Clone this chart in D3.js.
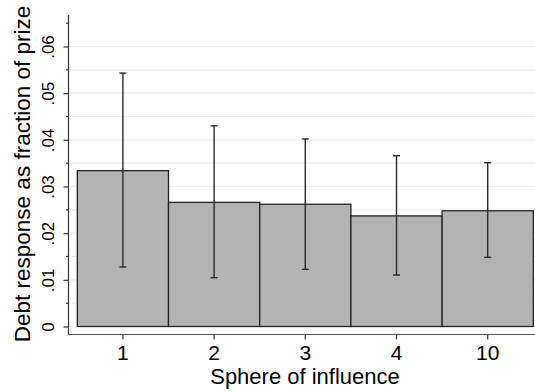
<!DOCTYPE html>
<html>
<head>
<meta charset="utf-8">
<script src="https://cdn.jsdelivr.net/npm/d3@7"></script>
<style>
  body { margin: 0; background: #fff; }
  svg { font-family: "Liberation Sans", Arial, sans-serif; }
</style>
</head>
<body>
<div id="chart"></div>
<script>
// data
const spheres = ["1", "2", "3", "4", "10"];
const meanResponse = [0.0334, 0.0266, 0.0262, 0.0237, 0.0248];
const ciLow = [0.01275, 0.01046, 0.01225, 0.01103, 0.01482];
const ciHigh = [0.0543, 0.0430, 0.0402, 0.0366, 0.0351];
const yTickLabels = ["0", ".01", ".02", ".03", ".04", ".05", ".06"];

const width = 535, height = 392;

const svg = d3.select("#chart")
  .append("svg")
  .attr("width", width)
  .attr("height", height);

// scales
const y = d3.scaleLinear()
  .domain([0, 0.06])
  .range([326.5, 46.5]);

const x = d3.scaleBand()
  .domain(spheres)
  .range([77.3, 533.3])
  .padding(0);

const axisX = 68.5, axisY = 334.5;

// gridlines every .005
const gridVals = d3.range(0, 13).map(i => i * 0.005);
svg.append("g")
  .selectAll("line")
  .data(gridVals)
  .enter()
  .append("line")
  .attr("x1", axisX)
  .attr("x2", width)
  .attr("y1", d => y(d))
  .attr("y2", d => y(d))
  .attr("stroke", "#e8eff1")
  .attr("stroke-width", 1.2);

// bars
svg.append("g")
  .selectAll("rect")
  .data(meanResponse)
  .enter()
  .append("rect")
  .attr("x", (d, i) => x(spheres[i]))
  .attr("y", d => y(d))
  .attr("width", x.bandwidth())
  .attr("height", d => y(0) - y(d))
  .attr("fill", "#b3b3b3")
  .attr("stroke", "#222")
  .attr("stroke-width", 1.3);

// error bars
const eb = svg.append("g")
  .attr("stroke", "#2a2a2a")
  .attr("stroke-width", 1.4);

spheres.forEach((s, i) => {
  const cx = x(s) + x.bandwidth() / 2;
  eb.append("line")
    .attr("x1", cx).attr("x2", cx)
    .attr("y1", y(ciLow[i])).attr("y2", y(ciHigh[i]));
  eb.append("line")
    .attr("x1", cx - 3.5).attr("x2", cx + 3.5)
    .attr("y1", y(ciLow[i])).attr("y2", y(ciLow[i]));
  eb.append("line")
    .attr("x1", cx - 3.5).attr("x2", cx + 3.5)
    .attr("y1", y(ciHigh[i])).attr("y2", y(ciHigh[i]));
});

// y axis
const yAxis = svg.append("g")
  .attr("transform", `translate(${axisX},0)`)
  .call(d3.axisLeft(y)
    .tickValues(d3.range(0, 7).map(i => i * 0.01))
    .tickSize(5)
    .tickFormat((d, i) => yTickLabels[i]));
yAxis.select(".domain").remove();
yAxis.selectAll(".tick line").attr("stroke", "#333").attr("stroke-width", 1.2);
yAxis.selectAll(".tick text")
  .attr("transform", "rotate(-90)")
  .attr("x", 0)
  .attr("y", -15)
  .attr("dy", 0)
  .attr("text-anchor", "middle")
  .attr("fill", "#000")
  .style("font-size", "17px");

// minor ticks
svg.append("g")
  .selectAll("line")
  .data(d3.range(0, 7).map(i => i * 0.01 + 0.005))
  .enter()
  .append("line")
  .attr("x1", axisX - 2.5)
  .attr("x2", axisX)
  .attr("y1", d => y(d))
  .attr("y2", d => y(d))
  .attr("stroke", "#333")
  .attr("stroke-width", 1.2);

svg.append("line")
  .attr("x1", axisX).attr("x2", axisX)
  .attr("y1", 15).attr("y2", axisY)
  .attr("stroke", "#333")
  .attr("stroke-width", 1.2);

// x axis
const xAxis = svg.append("g")
  .attr("transform", `translate(0,${axisY})`)
  .call(d3.axisBottom(x).tickSize(5).tickSizeOuter(0));
xAxis.select(".domain").remove();
xAxis.selectAll(".tick line").attr("stroke", "#333").attr("stroke-width", 1.2);
xAxis.selectAll(".tick text")
  .attr("y", 25)
  .attr("dy", 0)
  .attr("fill", "#000")
  .style("font-size", "21px");

svg.append("line")
  .attr("x1", axisX).attr("x2", width)
  .attr("y1", axisY).attr("y2", axisY)
  .attr("stroke", "#555")
  .attr("stroke-width", 1.2);

// axis titles
svg.append("text")
  .attr("x", 305)
  .attr("y", 384)
  .attr("text-anchor", "middle")
  .style("font-size", "22px")
  .text("Sphere of influence");

svg.append("text")
  .attr("transform", "translate(29.5,174) rotate(-90)")
  .attr("text-anchor", "middle")
  .style("font-size", "22.5px")
  .text("Debt response as fraction of prize");
</script>
</body>
</html>
